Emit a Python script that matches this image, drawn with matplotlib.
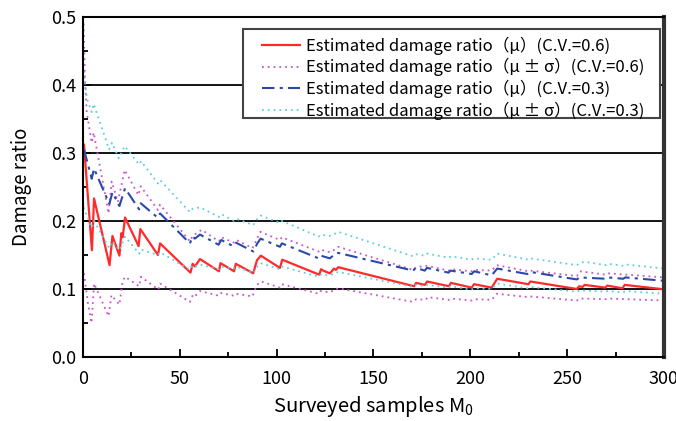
import matplotlib
matplotlib.use('Agg')
from matplotlib import pyplot as plt
from matplotlib.patches import Rectangle
from matplotlib.ticker import MultipleLocator, FormatStrFormatter

plt.rcParams['font.family'] = ['Noto Sans CJK JP', 'DejaVu Sans']
plt.rcParams['mathtext.default'] = 'regular'

# estimated damage ratio (mu), C.V.=0.6
red_m = [0.5, 4.6, 5.7, 13.7, 15.2, 18.8, 19.8, 20.5, 21.7, 28.7, 29.6, 38.7, 39.8,
         55.5, 56.6, 57.8, 60.4, 70.2, 71.0, 78.0, 78.9, 87.9, 89.8, 91.8, 101.7, 102.9,
         122.0, 122.9, 124.0, 127.5, 129.6, 130.6, 131.8, 171.0, 172.0, 176.5, 177.7,
         189.0, 190.0, 200.7, 201.9, 211.0, 213.9, 230.0, 231.0, 255.0, 256.2, 258.0,
         259.0, 269.7, 270.7, 278.6, 279.7, 300]
red_v = [0.312, 0.157, 0.233, 0.135, 0.178, 0.149, 0.182, 0.176, 0.205, 0.163, 0.188,
         0.150, 0.167, 0.124, 0.137, 0.133, 0.144, 0.126, 0.138, 0.126, 0.137, 0.123,
         0.142, 0.149, 0.131, 0.143, 0.121, 0.129, 0.127, 0.123, 0.130, 0.128, 0.132,
         0.104, 0.109, 0.106, 0.111, 0.104, 0.109, 0.102, 0.107, 0.102, 0.115, 0.107,
         0.111, 0.100, 0.104, 0.103, 0.106, 0.102, 0.105, 0.101, 0.106, 0.0995]

# mu +/- sigma, C.V.=0.6
pu_m = [0.3, 1.0, 1.9, 4.5, 5.5, 13.2, 14.8, 18.0, 21.5, 28.6, 29.8, 38.7, 39.8, 55.2,
        56.6, 61.3, 70.2, 71.4, 78.0, 79.2, 87.5, 91.6, 101.7, 102.7, 121.7, 122.6,
        127.5, 130.0, 131.8, 170.5, 172.0, 177.4, 189.0, 190.0, 200.7, 202.0, 211.0,
        213.7, 230.0, 231.0, 255.0, 256.6, 270.0, 271.0, 300]
pu_v = [0.49, 0.41, 0.36, 0.315, 0.33, 0.211, 0.258, 0.228, 0.275, 0.238, 0.251, 0.216,
        0.224, 0.170, 0.178, 0.187, 0.170, 0.176, 0.168, 0.172, 0.160, 0.184, 0.172,
        0.176, 0.155, 0.158, 0.154, 0.158, 0.162, 0.128, 0.132, 0.134, 0.127, 0.129,
        0.126, 0.128, 0.127, 0.135, 0.126, 0.127, 0.119, 0.126, 0.121, 0.123, 0.117]
pl_m = [0.5, 2.5, 4.4, 5.7, 13.2, 14.7, 18.8, 20.5, 21.7, 29.0, 29.9, 38.9, 39.8, 55.2,
        57.0, 58.5, 60.4, 70.2, 71.2, 78.0, 79.0, 87.5, 89.8, 92.0, 101.7, 102.7, 121.7,
        122.7, 127.5, 130.0, 131.8, 170.5, 172.0, 177.0, 178.0, 189.0, 190.0, 200.7,
        202.0, 211.0, 213.7, 230.0, 231.0, 255.0, 256.5, 270.0, 271.0, 300]
pl_v = [0.123, 0.080, 0.050, 0.108, 0.060, 0.091, 0.077, 0.112, 0.118, 0.104, 0.118,
        0.099, 0.108, 0.081, 0.093, 0.091, 0.097, 0.090, 0.094, 0.090, 0.093, 0.089,
        0.106, 0.111, 0.102, 0.107, 0.093, 0.097, 0.095, 0.099, 0.101, 0.081, 0.085,
        0.084, 0.088, 0.084, 0.086, 0.083, 0.085, 0.084, 0.093, 0.088, 0.089, 0.083,
        0.086, 0.085, 0.086, 0.083]

# estimated damage ratio (mu), C.V.=0.3
blue_m = [0.5, 4.5, 5.7, 13.6, 15.2, 18.8, 21.7, 29.0, 29.8, 38.5, 39.8, 55.2, 56.6,
          57.8, 60.4, 70.0, 71.4, 77.5, 79.0, 88.0, 90.0, 91.7, 101.7, 102.7, 121.7,
          122.7, 127.5, 130.0, 131.8, 170.5, 171.8, 176.5, 177.6, 188.8, 189.8, 200.7,
          202.0, 211.0, 213.9, 229.5, 231.0, 255.0, 256.4, 270.0, 271.0, 279.0, 280.0, 300]
blue_v = [0.305, 0.262, 0.277, 0.225, 0.242, 0.222, 0.248, 0.217, 0.226, 0.205, 0.211,
          0.167, 0.177, 0.174, 0.180, 0.165, 0.172, 0.163, 0.168, 0.155, 0.167, 0.174,
          0.162, 0.167, 0.145, 0.149, 0.145, 0.151, 0.153, 0.127, 0.131, 0.127, 0.131,
          0.124, 0.127, 0.122, 0.126, 0.120, 0.130, 0.122, 0.125, 0.114, 0.117, 0.115,
          0.117, 0.115, 0.117, 0.112]

# mu +/- sigma, C.V.=0.3
cu_m = [0.3, 2.0, 4.5, 5.5, 13.5, 15.0, 18.5, 21.5, 29.0, 30.0, 38.7, 39.8, 55.2, 56.6,
        60.4, 70.2, 71.4, 78.0, 79.2, 88.0, 90.0, 91.7, 101.7, 102.7, 121.7, 122.7,
        127.5, 130.0, 131.8, 170.5, 172.0, 176.5, 177.6, 188.8, 190.0, 200.7, 202.0,
        211.0, 213.9, 230.0, 231.0, 255.0, 256.5, 259.0, 270.0, 271.0, 279.0, 280.0, 300]
cu_v = [0.42, 0.38, 0.36, 0.372, 0.305, 0.315, 0.292, 0.310, 0.283, 0.288, 0.255, 0.260,
        0.213, 0.218, 0.220, 0.206, 0.210, 0.200, 0.203, 0.194, 0.203, 0.208, 0.197,
        0.200, 0.177, 0.180, 0.178, 0.181, 0.184, 0.148, 0.151, 0.149, 0.152, 0.146,
        0.148, 0.143, 0.145, 0.143, 0.152, 0.143, 0.145, 0.135, 0.138, 0.140, 0.135,
        0.137, 0.134, 0.136, 0.130]
cl_m = [0.3, 4.5, 5.7, 13.6, 15.2, 18.8, 21.7, 29.0, 29.8, 38.5, 39.8, 55.2, 56.6, 57.8,
        60.4, 70.0, 71.4, 77.5, 79.0, 88.0, 90.0, 91.7, 101.7, 102.7, 121.7, 122.7,
        127.5, 130.0, 131.8, 170.5, 171.8, 176.5, 177.6, 188.8, 189.8, 200.7, 202.0,
        211.0, 213.9, 229.5, 231.0, 255.0, 256.4, 270.0, 271.0, 279.0, 280.0, 300]
cl_v = [0.22, 0.19, 0.20, 0.160, 0.170, 0.157, 0.177, 0.152, 0.158, 0.150, 0.154, 0.128,
        0.135, 0.133, 0.136, 0.129, 0.133, 0.130, 0.133, 0.123, 0.133, 0.138, 0.129,
        0.133, 0.118, 0.121, 0.120, 0.123, 0.125, 0.103, 0.106, 0.104, 0.106, 0.102,
        0.104, 0.099, 0.101, 0.100, 0.108, 0.101, 0.103, 0.096, 0.098, 0.096, 0.097,
        0.095, 0.097, 0.093]

fig = plt.figure(figsize=(6.76, 4.21), dpi=100)
ax = fig.add_axes([0.1228, 0.152, 0.8594, 0.808])

ax.yaxis.grid(True, color='black', lw=1.3)
ax.set_axisbelow(True)

dot = (0, (1, 2.2))
l1, = ax.plot(red_m, red_v, color='#ff2a2a', lw=1.6)
l2, = ax.plot(pu_m, pu_v, color='#cc55cc', lw=1.3, ls=dot)
ax.plot(pl_m, pl_v, color='#cc55cc', lw=1.3, ls=dot)
l3, = ax.plot(blue_m, blue_v, color='#2a4aa8', lw=1.5, ls=(0, (6, 2.5, 1.5, 2.5)))
l4, = ax.plot(cu_m, cu_v, color='#5fcfdf', lw=1.3, ls=dot)
ax.plot(cl_m, cl_v, color='#5fcfdf', lw=1.3, ls=dot)

ax.set_xlim(0, 300)
ax.set_ylim(0, 0.5)
ax.xaxis.set_major_locator(MultipleLocator(50))
ax.xaxis.set_minor_locator(MultipleLocator(25))
ax.yaxis.set_major_locator(MultipleLocator(0.1))
ax.yaxis.set_minor_locator(MultipleLocator(0.05))
ax.yaxis.set_major_formatter(FormatStrFormatter('%.1f'))
ax.tick_params(which='both', direction='in', labelsize=13, width=1.3)
ax.tick_params(which='major', length=6)
ax.tick_params(which='minor', length=3.5)
ax.tick_params(axis='x', which='major', pad=9)
ax.tick_params(axis='y', which='major', pad=5)
for s in ['left', 'bottom', 'top']:
    ax.spines[s].set_linewidth(1.5)
ax.spines['right'].set_linewidth(3)
ax.spines['right'].set_color('#333333')

ax.set_xlabel('Surveyed samples M$_0$', fontsize=14.5)
ax.set_ylabel('Damage ratio', fontsize=13.5)
ax.xaxis.set_label_coords(0.5, -0.11)
ax.yaxis.set_label_coords(-0.088, 0.5)

# legend box drawn by hand so the side padding can match
ax.add_patch(Rectangle((0.2754, 0.703), 0.7176, 0.262, transform=ax.transAxes,
                       facecolor='white', edgecolor='#444444', lw=1.5, zorder=4))
labels = ['Estimated damage ratio（μ）(C.V.=0.6)',
          'Estimated damage ratio（μ ± σ）(C.V.=0.6)',
          'Estimated damage ratio（μ）(C.V.=0.3)',
          'Estimated damage ratio（μ ± σ）(C.V.=0.3)']
leg = ax.legend([l1, l2, l3, l4], labels, loc='upper left',
                bbox_to_anchor=(0.308, 0.942), borderaxespad=0, borderpad=0,
                fontsize=12, frameon=False, handlelength=2.3,
                handletextpad=0.35, labelspacing=0.2)

fig.savefig('out.png', dpi=100)
